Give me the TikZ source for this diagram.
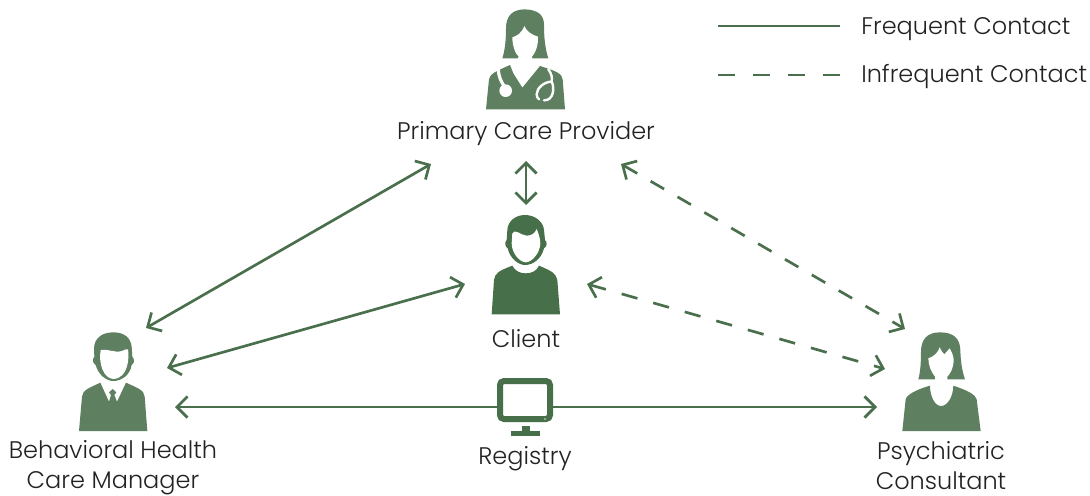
\documentclass[tikz,border=0pt]{standalone}
\usepackage{fontspec}
\usepackage{tikz}
\usetikzlibrary{arrows.meta}
\setmainfont{Poppins Light}

\definecolor{linegreen}{HTML}{4A6F4C}
\definecolor{clientgreen}{HTML}{476F49}
\definecolor{icongreen}{HTML}{5F8060}
\definecolor{labelgray}{HTML}{222222}

\tikzset{
  contact/.style={line width=2pt, color=linegreen},
  barbs/.style={contact, {Straight Barb[length=8pt,width=16pt,line width=2pt]}-{Straight Barb[length=8pt,width=16pt,line width=2pt]}},
  barbend/.style={contact, -{Straight Barb[length=8pt,width=16pt,line width=2pt]}},
  rarely/.style={dash pattern=on #1 off #1},
  label/.style={font=\fontsize{18}{22.6}\selectfont, color=labelgray, inner sep=0pt, align=center},
  icon/.style={fill=icongreen, draw=none},
  cutout/.style={fill=white, draw=none}
}

\begin{document}
\begin{tikzpicture}[x=0.75pt, y=-0.75pt]
\useasboundingbox (0,0) rectangle (1090,496);

% labels
\node[label] (providerlabel) at (526,133.5) {Primary Care Provider};
\node[label] (clientlabel) at (526,339) {Client};
\node[label] (managerlabel) at (113,467.5) {Behavioral Health\\Care Manager};
\node[label] (registrylabel) at (525,459) {Registry};
\node[label] (consultantlabel) at (941,466) {Psychiatric\\Consultant};

% provider
\begin{scope}[shift={(470,0)}, x=0.25pt, y=-0.25pt]
\fill[icon] (165,28) .. controls (125,28) and (108,50) .. (108,85) .. controls (108,120) and (105,150) .. (97,175) -- (235,175) .. controls (225,145) and (222,110) .. (222,75) .. controls (222,45) and (205,30) .. (165,28) -- cycle;
\fill[cutout] (127,112) .. controls (140,108) and (155,100) .. (163,78) .. controls (168,92) and (185,105) .. (204,110) .. controls (205,140) and (195,160) .. (186,170) -- (186,200) -- (200,195) -- (165,240) -- (135,195) -- (146,170) .. controls (135,160) and (127,135) .. (127,112) -- cycle;
\fill[icon] (48,328) -- (57,238) .. controls (60,222) and (75,215) .. (120,195) -- (130,220) -- (157,263) -- (210,198) .. controls (265,215) and (275,222) .. (278,238) -- (285,328) -- cycle;
\draw[white, line width=2.4pt] (85,208) .. controls (85,225) and (92,245) .. (105,262);
\fill[white] (107,272) circle (19);
\draw[white, line width=1.8pt, line cap=round] (235,208) .. controls (245,222) and (247,232) .. (245,245) .. controls (222,245) and (200,265) .. (200,283) .. controls (200,290) and (203,295) .. (207,298);
\draw[white, line width=1.8pt, line cap=round] (245,245) .. controls (255,265) and (250,302) .. (222,301);
\end{scope}

% client
\begin{scope}[shift={(470,205)}, x=0.25pt, y=-0.25pt]
\fill[clientgreen] (165,30) .. controls (135,30) and (113,50) .. (112,75) -- (110,105) .. controls (103,112) and (105,125) .. (113,130) .. controls (120,160) and (145,180) .. (165,180) .. controls (190,180) and (215,160) .. (222,130) .. controls (232,125) and (232,110) .. (225,105) -- (222,75) .. controls (220,50) and (195,30) .. (165,30) -- cycle;
\fill[cutout] (127,85) .. controls (135,70) and (150,90) .. (170,92) .. controls (185,92) and (195,85) .. (200,72) .. controls (205,85) and (210,95) .. (211,115) .. controls (210,145) and (185,172) .. (167,172) .. controls (150,172) and (125,145) .. (125,115) -- cycle;
\fill[clientgreen] (65,328) -- (72,225) .. controls (75,205) and (85,198) .. (127,182) .. controls (135,198) and (150,205) .. (167,205) .. controls (185,205) and (200,198) .. (207,182) .. controls (245,198) and (258,205) .. (262,225) -- (270,328) -- cycle;
\end{scope}

% manager
\begin{scope}[shift={(60,320)}, x=0.25pt, y=-0.25pt]
\fill[icon] (160,37) .. controls (125,37) and (103,55) .. (102,85) -- (103,110) .. controls (96,118) and (98,130) .. (107,135) .. controls (115,165) and (140,183) .. (160,183) .. controls (185,183) and (210,165) .. (215,135) .. controls (224,130) and (224,118) .. (217,110) -- (215,80) .. controls (212,55) and (195,37) .. (160,37) -- cycle;
\fill[cutout] (122,90) .. controls (140,85) and (165,100) .. (185,93) .. controls (195,90) and (200,85) .. (204,88) .. controls (208,110) and (206,175) .. (160,177) .. controls (130,175) and (115,130) .. (122,90) -- cycle;
\fill[icon] (57,333) -- (66,230) .. controls (68,210) and (85,205) .. (121,188) -- (147,245) -- (153,225) -- (147,217) -- (158,207) -- (169,217) -- (163,225) -- (171,245) -- (198,188) .. controls (235,205) and (252,210) .. (254,230) -- (262,333) -- cycle;
\end{scope}

% consultant
\begin{scope}[shift={(885,320)}, x=0.25pt, y=-0.25pt]
\fill[icon] (165,37) .. controls (125,37) and (108,60) .. (108,95) .. controls (108,130) and (106,155) .. (100,178) -- (240,178) .. controls (230,150) and (227,120) .. (226,90) .. controls (225,55) and (205,37) .. (165,37) -- cycle;
\fill[cutout] (130,115) .. controls (145,110) and (158,100) .. (164,82) .. controls (170,95) and (175,100) .. (178,103) -- (194,85) .. controls (203,100) and (207,115) .. (206,125) .. controls (204,145) and (197,160) .. (187,170) -- (187,190) -- (150,190) -- (150,170) .. controls (138,155) and (130,135) .. (130,115) -- cycle;
\fill[icon] (52,333) -- (62,238) .. controls (65,225) and (90,210) .. (135,197) .. controls (135,230) and (150,258) .. (168,258) .. controls (190,258) and (205,225) .. (205,197) .. controls (250,212) and (272,225) .. (275,238) -- (287,333) -- cycle;
\end{scope}

% registry
\node[draw=clientgreen, line width=4.5pt, rounded corners=3pt, fill=white, minimum width=37.5pt, minimum height=28.5pt, inner sep=0pt] (registry) at (525,400) {};
\fill[clientgreen] (521.5,426) rectangle (530,430.5);
\fill[clientgreen] (511,430.5) rectangle (540,435.5);
\fill[clientgreen!60] (544,417.5) rectangle (546,419.5);

% arrow ends
\coordinate (providerS) at (526,161);
\coordinate (clientN) at (526,205);
\coordinate (providerW) at (431,164);
\coordinate (managerNE) at (146,328);
\coordinate (clientW) at (465,284);
\coordinate (managerE) at (167,368);
\coordinate (managerS) at (175,407);
\coordinate (consultantS) at (877,407);
\coordinate (providerE) at (621,164);
\coordinate (consultantNW) at (905,329);
\coordinate (clientE) at (587,284);
\coordinate (consultantW) at (885,369);

\draw[barbs] (providerS) -- (clientN);
\draw[barbs] (managerNE) -- (providerW);
\draw[barbs] (managerE) -- (clientW);
\draw[barbend] (registry.west |- managerS) -- (managerS);
\draw[barbend] (registry.east |- consultantS) -- (consultantS);
\draw[barbs, rarely=11.65pt] (providerE) -- (consultantNW);
\draw[barbs, rarely=12.3pt] (clientE) -- (consultantW);

% legend
\coordinate (solidA) at (718,26);
\coordinate (solidB) at (840,26);
\coordinate (dashA) at (718,75);
\coordinate (dashB) at (840,75);
\draw[contact] (solidA) -- (solidB);
\draw[contact, rarely=13.07pt] (dashA) -- (dashB);
\node[label, anchor=west] (frequent) at (861,29) {Frequent Contact};
\node[label, anchor=west] (infrequent) at (861,77) {Infrequent Contact};
\end{tikzpicture}
\end{document}
